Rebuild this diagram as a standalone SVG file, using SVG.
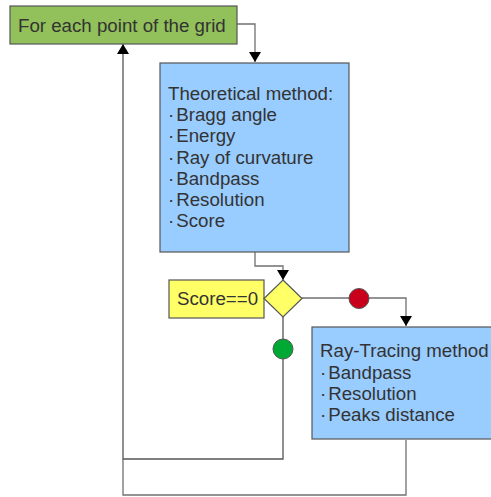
<svg xmlns="http://www.w3.org/2000/svg" width="491" height="497" viewBox="0 0 491 497">
<defs>
<style>
text{font-family:"Liberation Sans",Arial,sans-serif;font-size:18.7px;fill:#333333}
.box{stroke:#555555;stroke-width:1.2}
.ln{fill:none;stroke:#707070;stroke-width:1.3}
</style>
<marker id="ah" viewBox="0 0 10 12" refX="10" refY="6" markerWidth="10" markerHeight="12" markerUnits="userSpaceOnUse" orient="auto">
<path d="M0,0 L10,6 L0,12 Z" fill="#000"/>
</marker>
</defs>
<rect width="491" height="497" fill="#fff"/>
<g id="connectors">
<path class="ln" d="M237,24 H255 V62" marker-end="url(#ah)"/>
<path class="ln" d="M255,252 V266 H283 V280" marker-end="url(#ah)"/>
<path class="ln" d="M302,298 H406 V326" marker-end="url(#ah)"/>
<path class="ln" d="M283,317 V459 H123 V44" marker-end="url(#ah)" style="stroke:#555"/>
<path class="ln" d="M406,440 V495 H123 V459"/>
</g>
<g id="start">
<rect class="box" x="10" y="6" width="227" height="38" fill="#92c05a"/>
<text x="18" y="32">For each point of the grid</text>
</g>
<g id="theoretical">
<rect class="box" x="160" y="63" width="189" height="189" fill="#99ccff"/>
<text x="168" y="100">Theoretical method:</text>
<text x="168" y="121">·<tspan dx="2">Bragg angle</tspan></text>
<text x="168" y="142">·<tspan dx="2">Energy</tspan></text>
<text x="168" y="163.5">·<tspan dx="2">Ray of curvature</tspan></text>
<text x="168" y="184.5">·<tspan dx="2">Bandpass</tspan></text>
<text x="168" y="205.5">·<tspan dx="2">Resolution</tspan></text>
<text x="168" y="226.5">·<tspan dx="2">Score</tspan></text>
</g>
<g id="condition-label">
<rect class="box" x="169" y="280" width="95" height="38" fill="#ffff66"/>
<text x="177" y="304.5">Score==0</text>
</g>
<g id="decision">
<path class="box" d="M283,280 L302,298.5 L283,317 L264,298.5 Z" fill="#ffff66"/>
</g>
<g id="no-marker">
<circle cx="359" cy="298.5" r="10" fill="#c9001b" stroke="#555" stroke-width="1"/>
</g>
<g id="yes-marker">
<circle cx="283" cy="349" r="10" fill="#00a933" stroke="#555" stroke-width="1"/>
</g>
<g id="raytracing">
<rect class="box" x="312" y="327" width="185" height="112" fill="#99ccff"/>
<text x="320" y="357">Ray-Tracing method</text>
<text x="320" y="378.5">·<tspan dx="2">Bandpass</tspan></text>
<text x="320" y="399.5">·<tspan dx="2">Resolution</tspan></text>
<text x="320" y="420.5">·<tspan dx="2">Peaks distance</tspan></text>
</g>
</svg>
